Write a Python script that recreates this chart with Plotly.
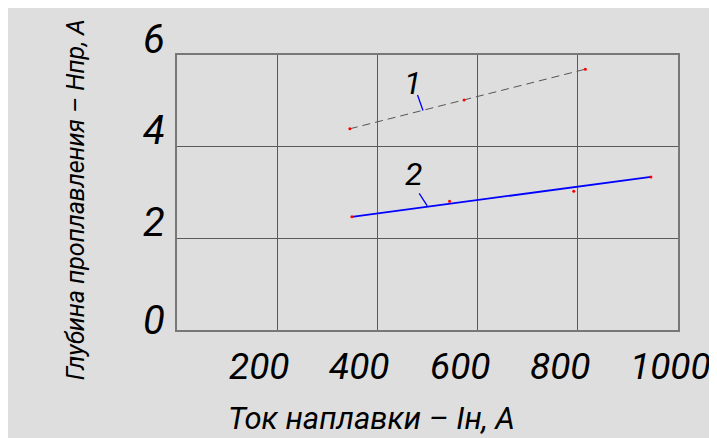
import plotly.graph_objects as go

# Данные графика (ток наплавки, А / глубина проплавления)
x_ticks = [200, 400, 600, 800, 1000]
y_ticks = [0, 2, 4, 6]

s1_x = [345, 573, 815]
s1_y = [4.39, 5.02, 5.69]

s2_x = [349, 544, 792, 946]
s2_y = [2.47, 2.81, 3.03, 3.34]
# линия аппроксимации для кривой 2
trend2_x = [349, 946]
trend2_y = [2.47, 3.34]

x_title = "Ток наплавки – Iн, A"
y_title = "Глубина проплавления – Hпр, A"

FONT = "Roboto, Liberation Sans, sans-serif"
GRID = "#5a5a5a"

fig = go.Figure()

# кривая 1 - штриховая
fig.add_trace(go.Scatter(x=s1_x, y=s1_y, mode="lines",
                         line=dict(color="#555555", width=1, dash="8px,5px"),
                         hoverinfo="skip"))
fig.add_trace(go.Scatter(x=s1_x, y=s1_y, mode="markers",
                         marker=dict(color="#ff0000", size=3)))

# кривая 2 - сплошная синяя
fig.add_trace(go.Scatter(x=trend2_x, y=trend2_y, mode="lines",
                         line=dict(color="#0000ff", width=1.8),
                         hoverinfo="skip"))
fig.add_trace(go.Scatter(x=s2_x, y=s2_y, mode="markers",
                         marker=dict(color="#ff0000", size=3)))

ann = []
# подписи делений оси X
for t in x_ticks:
    ann.append(dict(x=t, y=0, xref="x", yref="paper", text=str(t), showarrow=False,
                    xanchor="left", yanchor="top", xshift=-50, yshift=-13,
                    font=dict(family=FONT, size=37, color="black", style="italic")))
# подписи делений оси Y
for t in y_ticks:
    ann.append(dict(x=0, y=t, xref="paper", yref="y", text=str(t), showarrow=False,
                    xanchor="right", yanchor="middle", xshift=-10,
                    yshift=10 if t == 0 else 16,
                    font=dict(family=FONT, size=40, color="black", style="italic")))

# выноски 1 и 2
ann.append(dict(x=491, y=4.79, xref="x", yref="y", text="", showarrow=True,
                arrowhead=0, arrowwidth=1.3, arrowcolor="#0000ff", ax=-6, ay=-17))
ann.append(dict(x=499.5, y=2.71, xref="x", yref="y", text="", showarrow=True,
                arrowhead=0, arrowwidth=1.3, arrowcolor="#0000ff", ax=-9, ay=-14))
ann.append(dict(x=469.6, y=5.39, xref="x", yref="y", text="1", showarrow=False,
                font=dict(family=FONT, size=32, color="black", style="italic")))
ann.append(dict(x=471.6, y=3.40, xref="x", yref="y", text="2", showarrow=False,
                font=dict(family=FONT, size=32, color="black", style="italic")))

# подписи осей
ann.append(dict(x=-0.2036, y=0.475, xref="paper", yref="paper", text=y_title,
                showarrow=False, textangle=-90, xanchor="center", yanchor="middle",
                font=dict(family=FONT, size=25, color="black", style="italic")))
ann.append(dict(x=0.389, y=-0.3236, xref="paper", yref="paper", text=x_title,
                showarrow=False, xanchor="center", yanchor="middle",
                font=dict(family=FONT, size=31, color="black", style="italic")))

fig.update_layout(
    width=717, height=438,
    margin=dict(l=169, r=47, t=47, b=116),
    paper_bgcolor="#dedede",
    plot_bgcolor="#dedede",
    showlegend=False,
    annotations=ann,
    xaxis=dict(range=[0, 1000], dtick=200, showticklabels=False, ticks="",
               showgrid=True, gridcolor=GRID, gridwidth=1, zeroline=False,
               showline=True, linecolor="#777777", linewidth=1.5, mirror=True),
    yaxis=dict(range=[0, 6], dtick=2, showticklabels=False, ticks="",
               showgrid=True, gridcolor=GRID, gridwidth=1, zeroline=False,
               showline=True, linecolor="#777777", linewidth=1.5, mirror=True),
)

fig.write_html("out.html")
